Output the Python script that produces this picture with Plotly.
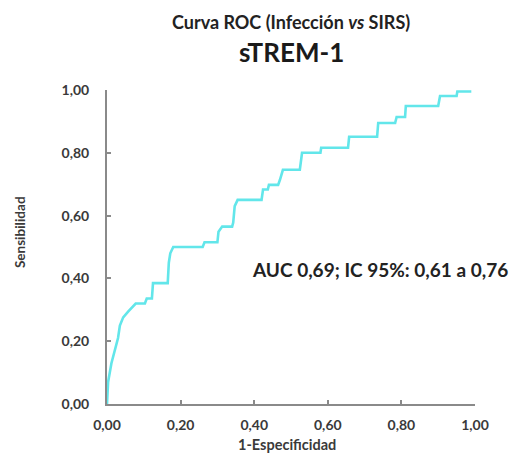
import plotly.graph_objects as go

# ROC curve vertices (1-Especificidad, Sensibilidad)
fpr = [0.0, 0.003, 0.012, 0.022, 0.03, 0.035, 0.044, 0.058, 0.068, 0.078, 0.103, 0.108, 0.122,
       0.125, 0.165, 0.168, 0.172, 0.18, 0.26, 0.265, 0.30, 0.303, 0.313, 0.34, 0.343, 0.347,
       0.355, 0.42, 0.424, 0.437, 0.44, 0.465, 0.47, 0.478, 0.524, 0.53, 0.58, 0.582,
       0.655, 0.658, 0.734, 0.737, 0.783, 0.787, 0.81, 0.812, 0.90, 0.905, 0.95, 0.952, 0.99]
tpr = [0.0, 0.07, 0.13, 0.175, 0.21, 0.25, 0.276, 0.295, 0.308, 0.32, 0.32, 0.336, 0.336,
       0.385, 0.385, 0.45, 0.48, 0.50, 0.50, 0.515, 0.515, 0.549, 0.565, 0.565, 0.578, 0.63,
       0.65, 0.65, 0.683, 0.683, 0.698, 0.698, 0.714, 0.746, 0.746, 0.80, 0.80, 0.816,
       0.816, 0.851, 0.851, 0.895, 0.895, 0.914, 0.914, 0.949, 0.949, 0.981, 0.981, 0.995, 0.995]

tick_vals = [0, 0.2, 0.4, 0.6, 0.8, 1.0]
tick_text = ["0,00", "0,20", "0,40", "0,60", "0,80", "1,00"]

title_line1 = "Curva ROC (Infección <i>vs</i> SIRS)"
title_line2 = "sTREM-1"
auc_text = "AUC 0,69; IC 95%: 0,61 a 0,76"
x_label = "1-Especificidad"
y_label = "Sensibilidad"

FONT = "Lato"
AXIS_COLOR = "#8a8a8a"
TEXT_COLOR = "#3a3a3a"

fig = go.Figure()
fig.add_trace(go.Scatter(x=fpr, y=tpr, mode="lines",
                         line=dict(color="#62E6EA", width=2.6),
                         showlegend=False, hoverinfo="skip"))

axis_common = dict(
    range=[0, 1], tickvals=tick_vals, ticktext=tick_text,
    showgrid=False, zeroline=False, showline=True,
    linecolor=AXIS_COLOR, linewidth=2,
    ticks="inside", ticklen=4, tickwidth=1.5, tickcolor=AXIS_COLOR,
    tickfont=dict(family=FONT, size=14, color=TEXT_COLOR, weight="bold"),
    fixedrange=True,
)
fig.update_xaxes(**axis_common, ticklabelstandoff=7)
fig.update_yaxes(**axis_common, ticklabelstandoff=13)

annotations = [
    dict(text="<b>" + title_line1 + "</b>", x=0.5, y=1.217, xref="paper", yref="paper",
         showarrow=False, font=dict(family=FONT, size=18, color="#222222"),
         xanchor="center", yanchor="middle"),
    dict(text="<b>" + title_line2 + "</b>", x=0.5, y=1.121, xref="paper", yref="paper",
         showarrow=False, font=dict(family=FONT, size=26, color="#1a1a1a"),
         xanchor="center", yanchor="middle"),
    dict(text="<b>" + auc_text + "</b>", x=0.742, y=0.427, xref="paper", yref="paper",
         showarrow=False, font=dict(family=FONT, size=19, color="#222222"),
         xanchor="center", yanchor="middle"),
    dict(text="<b>" + x_label + "</b>", x=0.49, y=-0.13, xref="paper", yref="paper",
         showarrow=False, font=dict(family=FONT, size=14.5, color=TEXT_COLOR),
         xanchor="center", yanchor="middle"),
    dict(text="<b>" + y_label + "</b>", x=-0.236, y=0.548, xref="paper", yref="paper",
         showarrow=False, textangle=-90, font=dict(family=FONT, size=13.5, color=TEXT_COLOR),
         xanchor="center", yanchor="middle"),
]

fig.update_layout(
    width=523, height=455,
    margin=dict(l=107, r=48, t=90, b=51),
    paper_bgcolor="white", plot_bgcolor="white",
    annotations=annotations,
)

fig.write_html("out.html")
